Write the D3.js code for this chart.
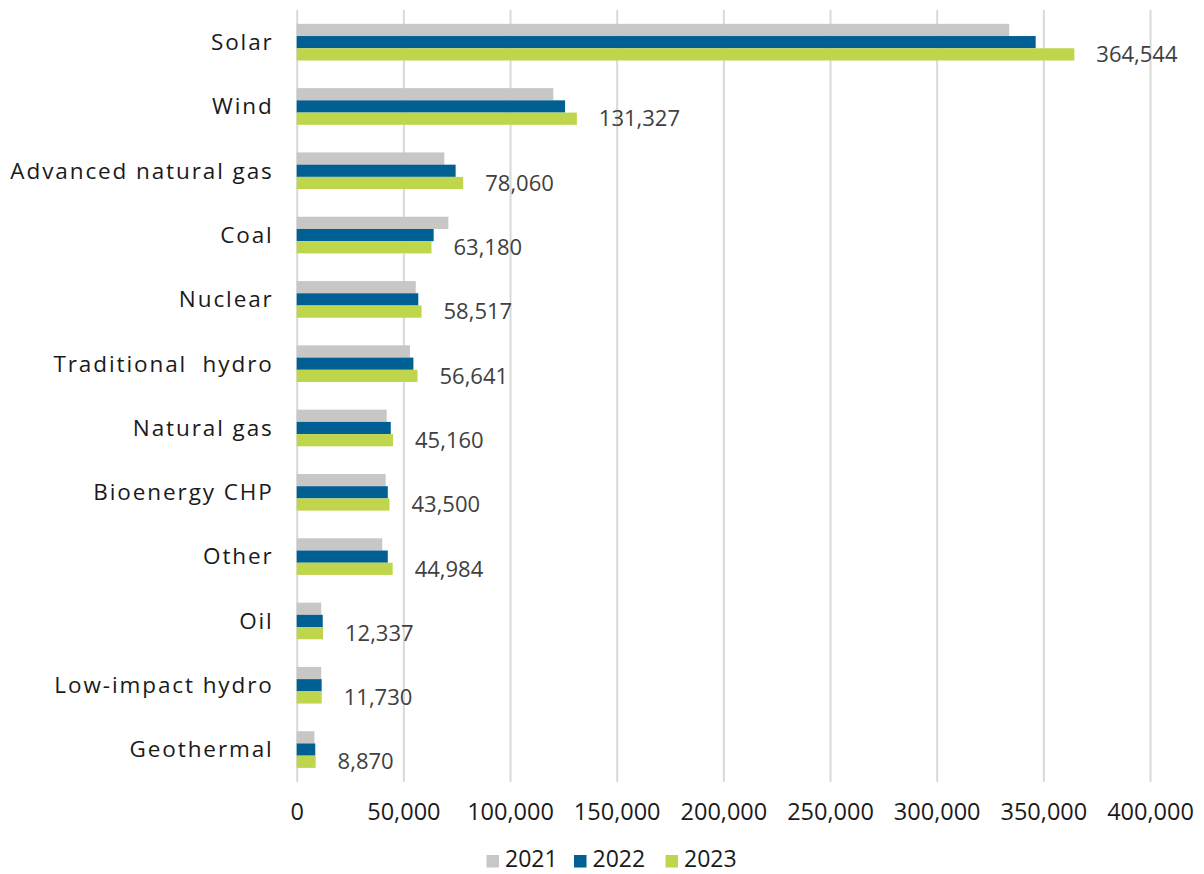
<!DOCTYPE html>
<html>
<head>
<meta charset="utf-8">
<script src="https://cdn.jsdelivr.net/npm/d3@7"></script>
<style>
  html, body { margin: 0; padding: 0; background: #fff; }
  svg { display: block; }
  text { font-family: "Open Sans", "Noto Sans", sans-serif; }
</style>
</head>
<body>
<svg id="chart" width="1204" height="874"></svg>
<script>
const categories = ["Solar", "Wind", "Advanced natural gas", "Coal", "Nuclear", "Traditional  hydro",
  "Natural gas", "Bioenergy CHP", "Other", "Oil", "Low-impact hydro", "Geothermal"];
const years = ["2021", "2022", "2023"];
const values2021 = [334000, 120300, 69200, 71100, 55800, 53100, 42200, 41700, 40100, 11500, 11500, 8300];
const values2022 = [346400, 125800, 74500, 64200, 57000, 54700, 44100, 42700, 42700, 12200, 11700, 8700];
const values2023 = [364544, 131327, 78060, 63180, 58517, 56641, 45160, 43500, 44984, 12337, 11730, 8870];
const xTicks = [0, 50000, 100000, 150000, 200000, 250000, 300000, 350000, 400000];
const colors = ["#c8c7c5", "#005f93", "#bfd54b"];

const series = [values2021, values2022, values2023];
const svg = d3.select("#chart");

const x = d3.scaleLinear().domain([0, 400000]).range([296.7, 1150]);
const y = d3.scaleBand().domain(categories).range([10, 781.7]).paddingInner(0.43).paddingOuter(0.215);
const yInner = d3.scaleBand().domain(years).range([0, y.bandwidth()]);
const fmt = d3.format(",");

// gridlines + tick labels
const xAxis = d3.axisBottom(x).tickValues(xTicks).tickSize(-(781.7 - 10)).tickFormat(fmt).tickPadding(0);
const gx = svg.append("g").attr("transform", "translate(0,781.7)").call(xAxis);
gx.select(".domain").remove();
gx.selectAll(".tick line").attr("stroke", "#d9d9d9").attr("stroke-width", 2);
gx.selectAll(".tick text")
  .attr("y", 38.5)
  .attr("dy", null)
  .attr("fill", "#1a1a1a")
  .style("font-size", "23.5px");

// bars
const rows = categories.map((c, i) => ({ c, vals: series.map(s => s[i]) }));
const groups = svg.append("g").selectAll("g").data(rows).join("g")
  .attr("transform", d => `translate(0,${y(d.c)})`);
groups.selectAll("rect").data(d => d.vals.map((v, k) => ({ v, k }))).join("rect")
  .attr("x", x(0))
  .attr("y", d => yInner(years[d.k]))
  .attr("width", d => x(d.v) - x(0))
  .attr("height", yInner.bandwidth())
  .attr("fill", d => colors[d.k]);

// data labels (2023)
groups.append("text")
  .attr("x", d => x(d.vals[2]) + 22)
  .attr("y", yInner("2023") + yInner.bandwidth() / 2)
  .attr("dy", "0.35em")
  .attr("fill", "#404040")
  .style("font-size", "22px")
  .text(d => fmt(d.vals[2]));

// category labels
const yAxis = d3.axisLeft(y).tickSize(0).tickPadding(23);
const gy = svg.append("g").attr("transform", `translate(${x(0)},0)`).call(yAxis);
gy.select(".domain").remove();
gy.selectAll(".tick text")
  .attr("fill", "#1a1a1a")
  .style("font-size", "22.5px")
  .style("letter-spacing", "1.9px")
  .style("white-space", "pre")
  .attr("dy", "0.35em");

// legend
const legendX = [486.5, 574, 665.5];
const lg = svg.append("g").selectAll("g").data(years).join("g")
  .attr("transform", (d, i) => `translate(${legendX[i]},855)`);
lg.append("rect").attr("width", 12.5).attr("height", 12.5).attr("fill", (d, i) => colors[i]);
lg.append("text").attr("x", 18.5).attr("y", 11.5)
  .attr("fill", "#1a1a1a").style("font-size", "23px").text(d => d);
</script>
</body>
</html>
